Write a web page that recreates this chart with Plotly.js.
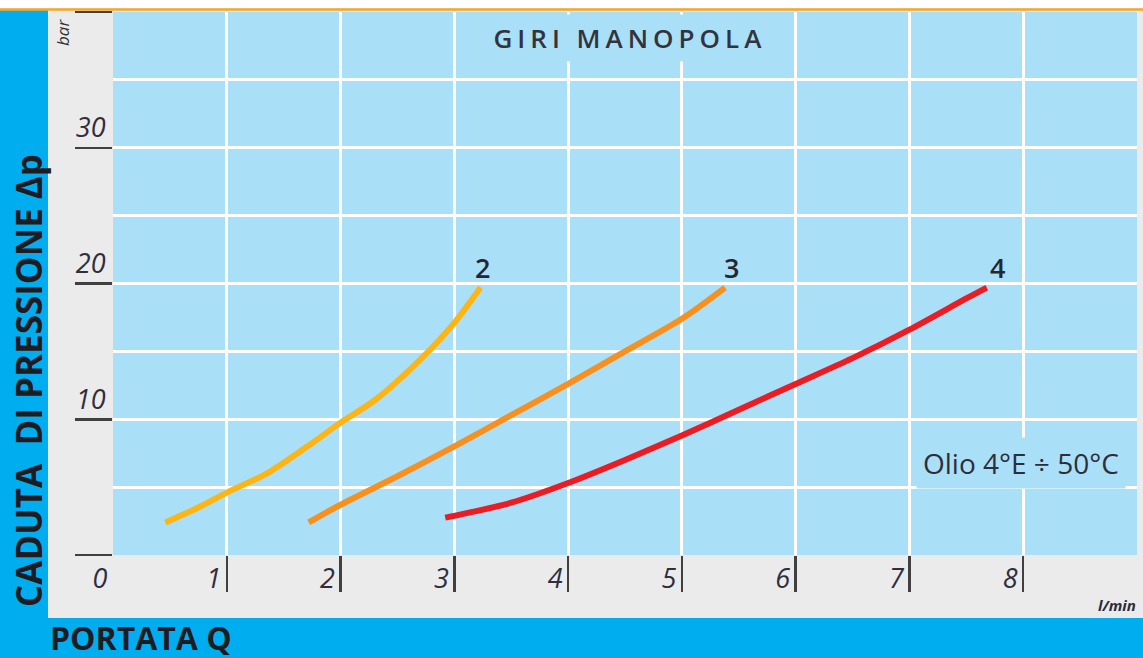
<!DOCTYPE html>
<html>
<head>
<meta charset="utf-8">
<script src="https://cdn.plot.ly/plotly-3.0.1.min.js"></script>
<style>
  html, body { margin: 0; padding: 0; background: #ebebeb; }
  #chart { width: 1143px; height: 658px; }
</style>
</head>
<body>
<div id="chart"></div>
<script>
// ---- data ----
const chartTitle = 'GIRI MANOPOLA';
const yTitle = 'CADUTA\u00a0 DI PRESSIONE \u0394p';
const xTitle = 'PORTATA Q';
const yUnit = 'bar';
const xUnit = 'l/min';
const noteText = 'Olio 4°E ÷ 50°C';

const curveNames = ['2', '3', '4'];
const curveColors = ['#fdb515', '#f7901e', '#ec1c24'];

const q2  = [0.46, 0.75, 1.0, 1.35, 1.7, 2.0, 2.3, 2.7, 3.0, 3.23];
const dp2 = [2.4, 3.5, 4.6, 6.0, 7.95, 9.75, 11.4, 14.4, 17.1, 19.7];

const q3  = [1.72, 2.0, 2.5, 3.0, 3.5, 4.0, 4.5, 5.0, 5.38];
const dp3 = [2.4, 3.7, 5.8, 8.0, 10.3, 12.6, 15.0, 17.4, 19.7];

const q4  = [2.92, 3.5, 4.0, 4.5, 5.0, 5.5, 6.0, 6.5, 7.0, 7.5, 7.68];
const dp4 = [2.75, 3.85, 5.3, 7.0, 8.8, 10.7, 12.6, 14.5, 16.6, 18.9, 19.7];

const labelQ  = [3.25, 5.44, 7.77];
const labelDp = [21.2, 21.2, 21.2];

const xTickMarks = [1, 2, 3, 4, 5, 6, 7, 8];
const xTickVals  = [0, 1, 2, 3, 4, 5, 6, 7, 8];
const xTickText  = ['0', '1', '2', '3', '4', '5', '6', '7', '8'];
const yTickVals  = [0, 10, 20, 30, 40];
const yTickText  = ['', '10', '20', '30', ''];
const xRange = [0, 9];
const yRange = [0, 40];
const titlePos = [4.55, 38.1];
const notePos = [7.98, 6.8];

// ---- styles ----
const plotBlue = '#a9e0f8';
const frameCyan = '#00aeef';
const panelGray = '#ebebeb';
const inkDark = '#262630';
const tickInk = '#404040';

const series = [[q2, dp2], [q3, dp3], [q4, dp4]];
const data = series.map((s, i) => ({
  type: 'scatter', mode: 'lines',
  x: s[0], y: s[1],
  line: { color: curveColors[i], width: 6, shape: 'spline', smoothing: 0.8 },
  hoverinfo: 'skip', showlegend: false, name: curveNames[i]
}));
data.push({ type: 'scatter', x: [], y: [], xaxis: 'x2', yaxis: 'y', showlegend: false });

const W = 1143, H = 658;
const mL = 113, mR = 6, mT = 12, mB = 103;
const pw = W - mL - mR, ph = H - mT - mB;
const px = v => (v - mL) / pw;
const py = v => (H - mB - v) / ph;

const annotations = curveNames.map((n, i) => ({
  x: labelQ[i], y: labelDp[i], xref: 'x', yref: 'y', text: n, showarrow: false,
  font: { family: 'Open Sans', size: 27, color: inkDark, weight: 600 }
}));
annotations.push({
  x: titlePos[0], y: titlePos[1], xref: 'x', yref: 'y', text: chartTitle, showarrow: false,
  font: { family: 'Open Sans', size: 26, color: '#33333d', weight: 600 },
  bgcolor: plotBlue, borderpad: 5
});
annotations.push({
  x: notePos[0], y: notePos[1], xref: 'x', yref: 'y', text: noteText, showarrow: false,
  font: { family: 'Open Sans', size: 28, color: '#2d2d3c' },
  bgcolor: plotBlue, borderpad: 6
});
annotations.push({
  x: px(29), y: py(381), xref: 'paper', yref: 'paper', xanchor: 'center', yanchor: 'middle',
  text: yTitle, showarrow: false,
  textangle: -90, font: { family: 'Open Sans', size: 35, color: '#1c1c22', weight: 700 }
});
annotations.push({
  x: px(48), y: py(637), xref: 'paper', yref: 'paper', xanchor: 'left', yanchor: 'middle',
  text: xTitle, showarrow: false,
  font: { family: 'Open Sans', size: 32, color: '#1c1c22', weight: 700 }
});
annotations.push({
  x: px(62), y: py(33), xref: 'paper', yref: 'paper', xanchor: 'center', yanchor: 'middle',
  text: yUnit, showarrow: false,
  textangle: -90, font: { family: 'Open Sans', size: 17, color: '#333', style: 'italic' }
});
annotations.push({
  x: px(1138), y: py(605), xref: 'paper', yref: 'paper', xanchor: 'right', yanchor: 'middle',
  text: xUnit, showarrow: false,
  font: { family: 'Open Sans', size: 15, color: '#2a2a3a', style: 'italic', weight: 700 }
});

const shapes = [
  { type: 'rect', xref: 'paper', yref: 'paper', layer: 'below',
    x0: px(0), x1: px(48), y0: py(658), y1: py(10), fillcolor: frameCyan, line: { width: 0 } },
  { type: 'rect', xref: 'paper', yref: 'paper', layer: 'below',
    x0: px(0), x1: px(1143), y0: py(658), y1: py(618), fillcolor: frameCyan, line: { width: 0 } },
  { type: 'rect', xref: 'paper', yref: 'paper', layer: 'below',
    x0: px(0), x1: px(1143), y0: py(8), y1: py(0), fillcolor: '#ffffff', line: { width: 0 } },
  { type: 'line', xref: 'paper', yref: 'paper', layer: 'below',
    x0: px(0), x1: px(1143), y0: py(9.5), y1: py(9.5), line: { color: '#f7a823', width: 2.5 } }
];

const layout = {
  width: W, height: H,
  margin: { l: mL, r: mR, t: mT, b: mB, pad: 0 },
  paper_bgcolor: panelGray, plot_bgcolor: plotBlue,
  showlegend: false,
  xaxis: {
    range: xRange, tickmode: 'array', tickvals: xTickMarks, showticklabels: false,
    ticks: 'outside', ticklen: 36, tickwidth: 2.5, tickcolor: tickInk,
    showgrid: true, gridcolor: '#ffffff', gridwidth: 3, zeroline: false, showline: false,
    minor: { tick0: 0, dtick: 1, showgrid: true, gridcolor: '#ffffff', gridwidth: 3, ticks: '' },
    fixedrange: true
  },
  xaxis2: {
    overlaying: 'x', anchor: 'y', side: 'bottom', range: xRange,
    tickmode: 'array', tickvals: xTickVals, ticktext: xTickText,
    ticks: '', showgrid: false, zeroline: false, showline: false,
    ticklabelshift: -13, ticklabelstandoff: 5,
    tickfont: { family: 'Open Sans', size: 27, color: '#2e2e3e', style: 'italic' },
    fixedrange: true
  },
  yaxis: {
    range: yRange, tickmode: 'array', tickvals: yTickVals, ticktext: yTickText,
    ticks: 'outside', ticklen: 37, tickwidth: 2.5, tickcolor: tickInk,
    showgrid: true, gridcolor: '#ffffff', gridwidth: 3, zeroline: false, showline: false,
    minor: { tick0: 0, dtick: 5, showgrid: true, gridcolor: '#ffffff', gridwidth: 3, ticks: '' },
    ticklabelshift: -20, ticklabelstandoff: -36,
    tickfont: { family: 'Open Sans', size: 27, color: '#2e2e3e', style: 'italic' },
    fixedrange: true
  },
  annotations: annotations,
  shapes: shapes
};

Plotly.newPlot('chart', data, layout, { staticPlot: true, displayModeBar: false }).then(gd => {
  gd.querySelectorAll('.annotation-text').forEach(t => {
    if (t.textContent === chartTitle) t.style.letterSpacing = '5px';
  });
});
</script>
</body>
</html>
